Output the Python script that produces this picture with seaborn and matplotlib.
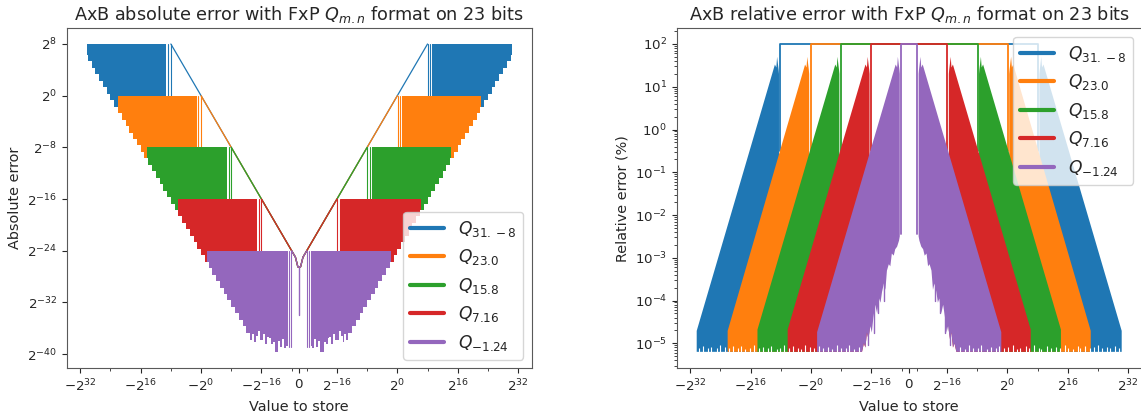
import numpy as np
import matplotlib
matplotlib.use("Agg")
import matplotlib.pyplot as plt
import seaborn as sns
import pandas as pd
from matplotlib.lines import Line2D
from matplotlib.ticker import FixedLocator, FixedFormatter, NullLocator, LogFormatterMathtext, LogLocator

# ---------------- data ----------------
labels = [r'$Q_{31.-8}$', r'$Q_{23.0}$', r'$Q_{15.8}$', r'$Q_{7.16}$', r'$Q_{-1.24}$']
step_log2 = [8, 0, -8, -16, -24]           # log2 of quantisation step (top of abs band)
outer_log2 = [30.3, 22.1, 14.2, 6.2, -1.6]  # log2 of largest stored value

# absolute error: lower edge of each band (log2|x| at step start, log2 error)
blue_abs_x = [9.2, 22, 23, 24, 25, 26, 27, 28, 29, 30, 30.3]
blue_abs_low = [-1.7, -1.7, -0.7, 0.3, 1.3, 2.3, 3.3, 4.3, 5.3, 6.3, 6.3]
orange_abs_x = [1.2, 14, 15, 16, 17, 18, 19, 20, 21, 22, 22.1]
orange_abs_low = [-9.7, -9.7, -8.7, -7.7, -6.7, -5.7, -4.7, -3.7, -2.7, -1.7, -1.7]
green_abs_x = [-6.8, 6, 7, 8, 9, 10, 11, 12, 13, 14, 14.2]
green_abs_low = [-17.7, -17.7, -16.7, -15.7, -14.7, -13.7, -12.7, -11.7, -10.7, -9.7, -9.7]
red_abs_x = [-14.8, -2, -1, 0, 1, 2, 3, 4, 5, 6, 6.2]
red_abs_low = [-25.7, -25.7, -24.7, -23.7, -22.7, -21.7, -20.7, -19.7, -18.7, -17.7, -17.7]
purple_abs_x = [-23, -22.5, -22, -21.5, -21, -20.5, -20, -19.5, -19, -18.5,
                -18, -17.5, -17, -16.5, -16, -15.5, -15, -14.5, -14, -13.5,
                -13, -12, -11, -10, -9, -8, -7, -6, -5, -4, -3, -2, -1.6]
purple_abs_low = [-38.7, -39.1, -37.6, -38.9, -38.0, -39.6, -39.6, -38.2, -38.4, -37.5,
                  -37.3, -38.5, -36.9, -37.8, -37.8, -36.5, -37.2, -38.2, -36.9, -37.8,
                  -36.7, -35.7, -34.7, -33.7, -32.7, -31.7, -30.7, -29.7, -28.7, -27.7, -26.7, -25.7, -25.7]
abs_lows_x = [blue_abs_x, orange_abs_x, green_abs_x, red_abs_x, purple_abs_x]
abs_lows = [blue_abs_low, orange_abs_low, green_abs_low, red_abs_low, purple_abs_low]
# drop lines just above each step (log2|x|) and how low they reach (log2 error)
abs_drop_dx = [0.05, 0.7]
abs_drop_low = [-1.7, -9.7, -17.7, -25.7, -38.9]

# |x| < step : error equals the value (diagonal), log2 points nearest zero
diag_inner_log2 = [-24, -25, -26.5]
center_spike_log2 = [-26.5, -34]

# relative error (%): upper envelope of each band (log2|x|, log10 %)
blue_rel_x = [8.5, 8.6, 9, 9.2, 9.58, 30.3]
blue_rel_up = [1.3, 1.4, 1.7, 1.45, 1.52, -4.71]
orange_rel_x = [0.5, 0.6, 1, 1.2, 1.58, 22.1]
orange_rel_up = [1.3, 1.4, 1.7, 1.45, 1.52, -4.71]
green_rel_x = [-7.5, -7.4, -7, -6.8, -6.42, 14.2]
green_rel_up = [1.3, 1.4, 1.7, 1.45, 1.52, -4.68]
red_rel_x = [-15.5, -15.4, -15, -14.8, -14.42, 6.2]
red_rel_up = [1.3, 1.4, 1.7, 1.45, 1.52, -4.68]
purple_rel_x = [-23.5, -23.4, -23, -22.8, -22.42, -1.6]
purple_rel_up = [1.3, 1.4, 1.7, 1.45, 1.52, -4.74]
rel_ups_x = [blue_rel_x, orange_rel_x, green_rel_x, red_rel_x, purple_rel_x]
rel_ups = [blue_rel_up, orange_rel_up, green_rel_up, red_rel_up, purple_rel_up]
rel_floor_log10 = -5.2
# 100 % plateau edge (log2|x|) and bottom of the drop there (log10 %)
rel_edge_x = [8.13, 0.13, -7.87, -15.87, -23.85]
rel_edge_low = [-0.5, -0.5, -0.5, -0.5, -2.45]
# lower edge near zero of the red and purple bands (log2|x|, log10 %)
red_rel_low_x = [-13.5, -14.0, -14.4, -14.8, -15.2, -15.5]
red_rel_low = [-5.2, -5.0, -5.1, -4.75, -4.9, -4.7]
purple_rel_low_x = [-13.5, -14.0, -14.4, -14.8, -15.2, -15.7, -16.1, -16.5, -17.0, -17.5, -18.0, -18.4,
                    -18.8, -19.3, -19.7, -20.1, -20.6, -21.0, -21.4, -21.9, -22.3, -22.8, -23.3, -23.5]
purple_rel_low = [-5.2, -5.0, -5.1, -4.75, -4.9, -4.6, -4.75, -4.4, -4.1, -4.3, -3.95, -4.05,
                  -3.8, -3.6, -3.75, -3.3, -3.15, -3.2, -2.9, -2.95, -2.8, -2.74, -2.6, -2.5]
purple_rel_spike_x = [-15.1, -16.6, -19.2, -17.8]
purple_rel_spike_low = [-5.05, -4.75, -4.0, -4.3]
# small gaps along the bottom of the relative bands (log2|x|, log10 % reached)
notch_x = [-12.6, -11.3, -10.1, -9.2, -7.8, -6.9, -5.5, -4.4, -3.1, -2.2, -0.8, 0.3, 1.5,
           2.6, 3.4, 4.9, 5.8, 7.1, 8.3, 9.0, 10.6, 11.5, 12.8, 13.9, 15.2, 16.1, 17.4,
           18.6, 19.3, 20.7, 21.8, 22.9, 24.1, 25.0, 26.4, 27.3, 28.5, 29.6]
notch_top = [-5.08, -5.13, -5.05, -5.12, -5.10, -5.04, -5.13, -5.08, -5.11, -5.06, -5.12, -5.09, -5.05,
             -5.13, -5.10, -5.07, -5.12, -5.05, -5.10, -5.13, -5.06, -5.11, -5.08, -5.12, -5.05, -5.10, -5.13,
             -5.07, -5.11, -5.06, -5.12, -5.09, -5.05, -5.12, -5.08, -5.11, -5.06, -5.10]

xtick_vals = [-2**32, -2**16, -1, -2**-16, 0, 2**-16, 1, 2**16, 2**32]
xtick_labels = [r'$-2^{32}$', r'$-2^{16}$', r'$-2^{0}$', r'$-2^{-16}$', r'$0$',
                r'$2^{-16}$', r'$2^{0}$', r'$2^{16}$', r'$2^{32}$']
xminor_vals = [-2**24, -2**8, -2**-8, -2**-24, 2**-24, 2**-8, 2**8, 2**24]

# ---------------- style ----------------
sns.set_style("ticks")
plt.rcParams['font.family'] = ['DejaVu Sans']
plt.rcParams['axes.edgecolor'] = '0.35'
plt.rcParams['mathtext.fontset'] = 'dejavusans'
colors = sns.color_palette("tab10", 5)

W, H = 1141, 416
fig = plt.figure(figsize=(W / 100, H / 100), dpi=100)
axA = fig.add_axes([66.7 / W, (H - 368.3) / H, 465 / W, 340 / H])
axR = fig.add_axes([676.7 / W, (H - 368.3) / H, 465 / W, 340 / H])

def p2(v):
    return 2.0 ** np.asarray(v, dtype=float)

def p10(v):
    return 10.0 ** np.asarray(v, dtype=float)

# ---------------- absolute error ----------------
for i, c in enumerate(colors):
    r = step_log2[i]
    top = 2.0 ** r
    xs = p2(abs_lows_x[i])
    lows = p2(abs_lows[i])
    for sgn in (-1, 1):
        axA.fill_between(sgn * xs, lows, top, step='post', color=c, lw=0, zorder=2 + i)
    # diagonal: error equals |x| below the step
    dl = np.array([r] + diag_inner_log2)
    xs_d = np.concatenate([-p2(dl), p2(dl[::-1])])
    ys_d = np.concatenate([p2(dl), p2(dl[::-1])])
    df = pd.DataFrame({"x": xs_d, "y": ys_d})
    sns.lineplot(data=df, x="x", y="y", ax=axA, color=c, lw=0.9, sort=False,
                 estimator=None, zorder=2 + i)
    # drop lines at the inner edge of each band
    for dx in abs_drop_dx:
        for sgn in (-1, 1):
            xe = sgn * 2.0 ** (r + dx)
            axA.plot([xe, xe], [top, 2.0 ** abs_drop_low[i]], color=c, lw=0.8, zorder=2 + i)
axA.plot([0, 0], p2(center_spike_log2), color=colors[4], lw=1.0, zorder=7)

axA.set_xscale('symlog', base=2, linthresh=2**-24, linscale=1)
axA.set_yscale('log', base=2)
axA.set_xlim(-2**35.6, 2**35.6)
axA.set_ylim(2**-42.2, 2**10.43)
axA.yaxis.set_major_locator(FixedLocator([2.0**k for k in (8, 0, -8, -16, -24, -32, -40)]))
axA.yaxis.set_major_formatter(LogFormatterMathtext(base=2))
axA.yaxis.set_minor_locator(NullLocator())
axA.set_title(r'AxB absolute error with FxP $Q_{m.n}$ format on 23 bits', fontsize=12.7)
axA.set_ylabel('Absolute error', fontsize=10.4)

# ---------------- relative error ----------------
floor = 10.0 ** rel_floor_log10
for i, c in enumerate(colors):
    ux = p2(rel_ups_x[i])
    uy = p10(rel_ups[i])
    if i == 4:
        lx = np.concatenate([[ux[-1]], p2(purple_rel_low_x)])
        ly = np.concatenate([[floor], p10(purple_rel_low)])
    elif i == 3:
        lx = np.concatenate([[ux[-1]], p2(red_rel_low_x)])
        ly = np.concatenate([[floor], p10(red_rel_low)])
    else:
        lx = np.array([ux[-1], ux[0]])
        ly = np.array([floor, floor])
    for sgn in (-1, 1):
        px = np.concatenate([sgn * ux, sgn * lx])
        py = np.concatenate([uy, ly])
        axR.fill(px, py, color=c, lw=0, zorder=2 + i)
    # 100 % plateau for |x| below the step, with the drop at the edge
    xe = 2.0 ** rel_edge_x[i]
    ye = 10.0 ** rel_edge_low[i]
    df = pd.DataFrame({"x": [-xe, -xe, xe, xe], "y": [ye, 100, 100, ye]})
    sns.lineplot(data=df, x="x", y="y", ax=axR, color=c, lw=1.3, sort=False,
                 estimator=None, zorder=2 + i)
for sx, sy in zip(purple_rel_spike_x, purple_rel_spike_low):
    for sgn in (-1, 1):
        axR.plot([sgn * 2.0 ** sx] * 2, [1e-2, 10.0 ** sy], color=colors[4], lw=1, zorder=7)
for nx, ny in zip(notch_x, notch_top):
    for sgn in (-1, 1):
        axR.plot([sgn * 2.0 ** nx] * 2, [floor * 0.97, 10.0 ** ny], color='white',
                 lw=0.8, zorder=8, solid_capstyle='butt')

axR.set_xscale('symlog', base=2, linthresh=2**-24, linscale=1)
axR.set_yscale('log')
axR.set_xlim(-2**35.6, 2**35.6)
axR.set_ylim(10**-5.585, 10**2.367)
axR.yaxis.set_major_locator(LogLocator(base=10, numticks=20))
axR.yaxis.set_minor_locator(LogLocator(base=10, subs=np.arange(2, 10), numticks=20))
axR.yaxis.set_major_formatter(LogFormatterMathtext(base=10))
axR.set_title(r'AxB relative error with FxP $Q_{m.n}$ format on 23 bits', fontsize=12.7)
axR.set_ylabel('Relative error (%)', fontsize=10.4)

handles = [Line2D([], [], color=c, lw=3) for c in colors]
for ax, loc in ((axA, 'lower right'), (axR, 'upper right')):
    ax.xaxis.set_major_locator(FixedLocator(xtick_vals))
    ax.xaxis.set_major_formatter(FixedFormatter(xtick_labels))
    ax.xaxis.set_minor_locator(FixedLocator(xminor_vals))
    ax.set_xlabel('Value to store', fontsize=10.4)
    ax.tick_params(labelsize=9.6)
    leg = ax.legend(handles, labels, loc=loc, fontsize=12.3)
    leg.set_zorder(20)

fig.savefig("out.png", dpi=100)
